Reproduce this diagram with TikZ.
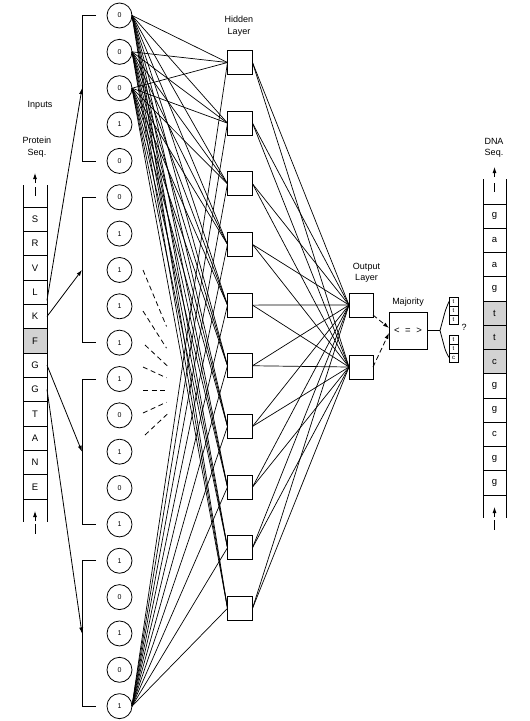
\documentclass[tikz,border=0pt]{standalone}
\usepackage{fontspec}
\setmainfont{Liberation Sans}
\usetikzlibrary{calc,arrows.meta}
\begin{document}
\begin{tikzpicture}[x=1pt,y=-1pt,
  line width=0.8pt,
  every node/.style={inner sep=0pt, outer sep=0pt},
  lbl/.style={font=\fontsize{9}{11.5}\selectfont, align=center},
  pcell/.style={draw, minimum width=24pt, minimum height=24.33pt, font=\fontsize{9.5}{10}\selectfont},
  dcell/.style={draw, minimum width=23pt, minimum height=24.25pt, font=\fontsize{9.5}{10}\selectfont},
  inp/.style={draw, circle, minimum size=25pt, font=\fontsize{7}{8}\selectfont},
  unit/.style={draw, minimum width=25pt, minimum height=24pt},
  tinycell/.style={draw, minimum width=9pt, minimum height=9pt, font=\fontsize{6}{6}\selectfont},
  conn/.style={line width=0.7pt},
  arr/.style={-{Latex[length=6pt,width=4pt]}},
  fan/.style={dashed, dash pattern=on 5pt off 3.5pt}
]
\useasboundingbox (0,0) rectangle (530,721);

% ---------- labels ----------
\node[lbl] (inl) at (40,105) {Inputs};
\node[lbl] (prl) at (37,147) {Protein\\Seq.};
\node[lbl] (hil) at (239,26) {Hidden\\Layer};
\node[lbl] (oul) at (366.5,273) {Output\\Layer};
\node[lbl] (majl) at (408,302.5) {Majority};
\node[lbl] (dnl) at (494,148) {DNA\\Seq.};
\node[lbl] (qm) at (464,327) {?};

% ---------- protein sequence column ----------
\coordinate (ptl) at (23,185); \coordinate (pbl) at (23,522);
\coordinate (ptr) at (47,185); \coordinate (pbr) at (47,522);
\draw (ptl) -- (pbl);
\draw (ptr) -- (pbr);
\foreach \l/\f [count=\i] in {S/white,R/white,V/white,L/white,K/white,F/gray!35,G/white,G/white,T/white,A/white,N/white,E/white}
  \node[pcell, fill=\f] (p\i) at (35,{207+24.33*(\i-0.5)}) {\l};
\coordinate (pa1) at (35,183); \coordinate (pa1t) at (35,173);
\draw[arr] (pa1) -- (pa1t);
\coordinate (pd1) at (35,187); \coordinate (pd1b) at (35,196);
\draw (pd1) -- (pd1b);
\coordinate (pa2) at (35,521); \coordinate (pa2t) at (35,511);
\draw[arr] (pa2) -- (pa2t);
\coordinate (pd2) at (35,524); \coordinate (pd2b) at (35,534);
\draw (pd2) -- (pd2b);

% ---------- input circles ----------
\foreach \v [count=\i] in {0,0,0,1,0,0,1,1,1,1,1,0,1,0,1,1,0,1,0,1}
  \node[inp] (c\i) at (119.5,{15.5+36.35*(\i-1)}) {\v};

% ---------- brackets ----------
\foreach \g in {0,1,2,3} {
  \pgfmathsetmacro{\yt}{15.5+36.35*5*\g}
  \pgfmathsetmacro{\yb}{\yt+4*36.35}
  \pgfmathsetmacro{\ym}{(\yt+\yb)/2}
  \coordinate (bt\g) at (96,\yt);
  \coordinate (bb\g) at (96,\yb);
  \coordinate (b\g) at (82,\ym);
  \draw (bt\g) -- (82,\yt) -- (82,\yb) -- (bb\g);
}

% ---------- arrows protein -> brackets ----------
\draw[arr] ($(p4.south east)+(0,-4)$) -- (b0);
\draw[arr] (p5.east) -- (b1);
\draw[arr] (p7.east) -- (b2);
\draw[arr] (p8.east) -- (b3);

% ---------- hidden and output units ----------
\foreach \i in {1,...,10}
  \node[unit] (h\i) at (240,{62.5+60.65*(\i-1)}) {};
\node[unit, minimum width=24pt] (o1) at (361,305) {};
\node[unit, minimum width=24pt] (o2) at (361,367) {};

% ---------- connections ----------
\foreach \c in {1,2,3,20}
  \foreach \h in {1,...,10}
    \draw[conn] (c\c.east) -- (h\h.west);
\foreach \h in {1,...,10}
  \foreach \o in {1,2}
    \draw[conn] (h\h.east) -- (o\o.west);

% ---------- dashed fan ----------
\coordinate (focal) at (193,390);
\foreach \sx/\sy in {143/270,143/311,145/345,143/367,143/390,143/413,145/435}
  \draw[fan] (\sx,\sy) -- ($(\sx,\sy)!0.47!(focal)$);

% ---------- majority ----------
\node[draw, minimum width=38pt, minimum height=37pt, font=\fontsize{9.5}{10}\selectfont] (maj) at (408,330.5) {<\hspace{5.5pt}=\hspace{5.5pt}>};
\draw[dashed, dash pattern=on 5pt off 3pt, arr] ($(o1.south east)+(0,-2)$) -- ($(maj.west)+(0,-2.5)$);
\draw[dashed, dash pattern=on 5pt off 3pt, arr] (o2.east) -- ($(maj.west)+(0,2.5)$);

% ---------- small candidate stacks ----------
\foreach \l [count=\i] in {t,t,t}
  \node[tinycell] (sa\i) at (453.5,{297+9*(\i-0.5)}) {\l};
\foreach \l [count=\i] in {t,t,c}
  \node[tinycell] (sb\i) at (453.5,{335+9*(\i-0.5)}) {\l};
\coordinate (fk) at (440,330.5);
\draw (maj.east) -- (fk);
\draw[rounded corners=3pt] (fk) -- (445.5,310) -- (sa1.west);
\draw[rounded corners=3pt] (fk) -- (445.5,351) -- (sb3.west);

% ---------- DNA sequence column ----------
\coordinate (dtl) at (483,179); \coordinate (dbl) at (483,518);
\coordinate (dtr) at (506,179); \coordinate (dbr) at (506,518);
\draw (dtl) -- (dbl);
\draw (dtr) -- (dbr);
\foreach \l/\f [count=\i] in {g/white,a/white,a/white,g/white,t/gray!35,t/gray!35,c/gray!35,g/white,g/white,c/white,g/white,g/white}
  \node[dcell, fill=\f] (d\i) at (494.5,{204+24.25*(\i-0.5)}) {\l};
\coordinate (da1) at (494.5,177); \coordinate (da1t) at (494.5,167);
\draw[arr] (da1) -- (da1t);
\coordinate (dd1) at (494.5,183); \coordinate (dd1b) at (494.5,192);
\draw (dd1) -- (dd1b);
\coordinate (da2) at (494.5,517); \coordinate (da2t) at (494.5,507);
\draw[arr] (da2) -- (da2t);
\coordinate (dd2) at (494.5,520); \coordinate (dd2b) at (494.5,530);
\draw (dd2) -- (dd2b);
\end{tikzpicture}
\end{document}
